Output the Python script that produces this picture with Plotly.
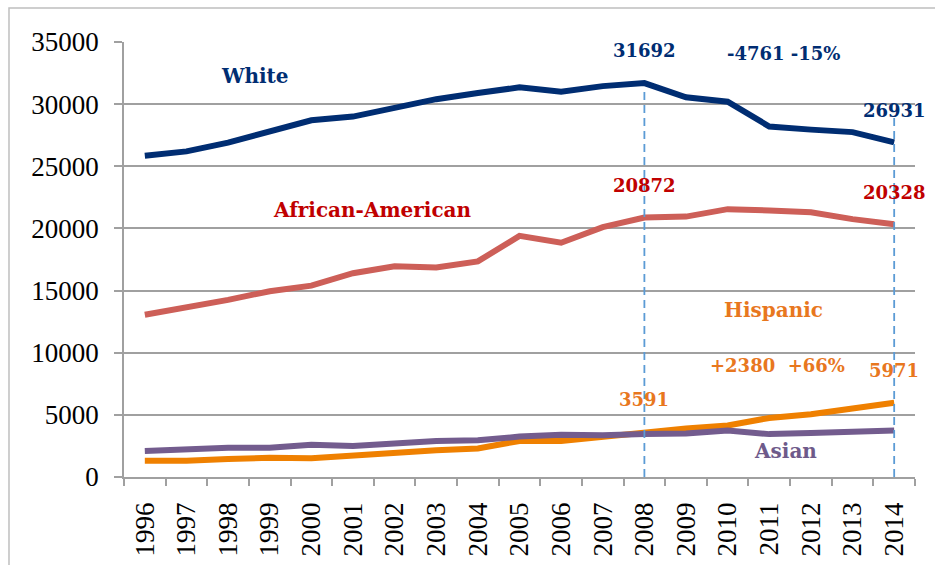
import plotly.graph_objects as go

years = [str(y) for y in range(1996, 2015)]
white = [25850, 26200, 26900, 27800, 28700, 29000, 29700, 30400, 30900, 31350,
         31000, 31450, 31692, 30550, 30200, 28200, 27950, 27750, 26931]
african_american = [13050, 13600, 14250, 14950, 15400, 16400, 16950, 16850, 17350, 19400,
                    18850, 20100, 20872, 20950, 21550, 21450, 21300, 20750, 20328]
hispanic = [1300, 1300, 1450, 1550, 1500, 1750, 1950, 2150, 2300, 2900,
            2900, 3250, 3591, 3900, 4150, 4750, 5050, 5500, 5971]
asian = [2100, 2250, 2350, 2350, 2600, 2500, 2750, 2900, 2950, 3250,
         3400, 3350, 3450, 3500, 3750, 3450, 3550, 3700, 3750]
y_ticks = [0, 5000, 10000, 15000, 20000, 25000, 30000, 35000]
y_tick_text = [str(v) for v in y_ticks]

series = [
    ("White", white, "#002D72"),
    ("African-American", african_american, "#CD5F58"),
    ("Hispanic", hispanic, "#EF8000"),
    ("Asian", asian, "#735C8E"),
]

fig = go.Figure()
for name, vals, col in series:
    fig.add_trace(go.Scatter(x=years, y=vals, mode="lines", name=name,
                             line=dict(color=col, width=6), showlegend=False))

# (text, x index, y value, color, font size)
labels = [
    ("White", 2.64, 32260, "#002D72", 20),
    ("African-American", 5.46, 21450, "#C00000", 20),
    ("Hispanic", 15.1, 13470, "#E8771E", 20),
    ("Asian", 15.4, 2100, "#6E5A8A", 20),
    ("31692", 12, 34350, "#002D72", 18),
    ("-4761 -15%", 15.33, 34110, "#002D72", 18),
    ("26931", 18, 29520, "#002D72", 18),
    ("20872", 12, 23470, "#C00000", 18),
    ("20328", 18, 22900, "#C00000", 18),
    ("+2380  +66%", 15.2, 8950, "#E8771E", 18),
    ("5971", 18, 8550, "#E8771E", 18),
    ("3591", 12, 6210, "#E8771E", 18),
]
for text, xi, yv, col, sz in labels:
    fig.add_annotation(x=xi, y=yv, xref="x", yref="y", text="<b>%s</b>" % text,
                       showarrow=False, font=dict(family="DejaVu Serif", size=sz, color=col))

fig.add_shape(type="line", xref="x", yref="y", x0=12, x1=12, y0=0, y1=31350,
              line=dict(color="#5B9BD5", width=1.8, dash="8px,5px"))
fig.add_shape(type="line", xref="x", yref="y", x0=18, x1=18, y0=0, y1=29100,
              line=dict(color="#5B9BD5", width=1.8, dash="8px,5px"))

fig.add_shape(type="rect", xref="paper", yref="paper", x0=-0.1454, x1=1.1, y0=-0.4, y1=1.078,
              line=dict(color="#BFBFBF", width=1.5), layer="below")

fig.update_layout(
    width=935, height=565,
    margin=dict(l=124, r=20, t=42, b=88),
    plot_bgcolor="white", paper_bgcolor="white",
    font=dict(family="Liberation Serif", color="black"),
    xaxis=dict(type="category", tickangle=-90, showgrid=False, automargin=False,
               showline=True, linecolor="#A0A0A0", linewidth=1.5,
               ticks="outside", tickson="boundaries", ticklen=7, tickcolor="#A0A0A0",
               tickwidth=1.5, tickfont=dict(family="Liberation Serif", size=27),
               range=[-0.5, 18.5], ticklabelstandoff=13),
    yaxis=dict(range=[0, 35000], tickvals=y_ticks, ticktext=y_tick_text,
               showgrid=True, gridcolor="#A0A0A0", automargin=False,
               gridwidth=1.5, showline=True, linecolor="#A0A0A0", linewidth=1.5,
               ticks="outside", ticklen=8, tickcolor="#A0A0A0", tickwidth=1.5,
               tickfont=dict(family="Liberation Serif", size=27), zeroline=False,
               ticklabelstandoff=10),
)

fig.write_html("out.html", config={"displayModeBar": False},
               post_script="document.body.style.margin='0';")
